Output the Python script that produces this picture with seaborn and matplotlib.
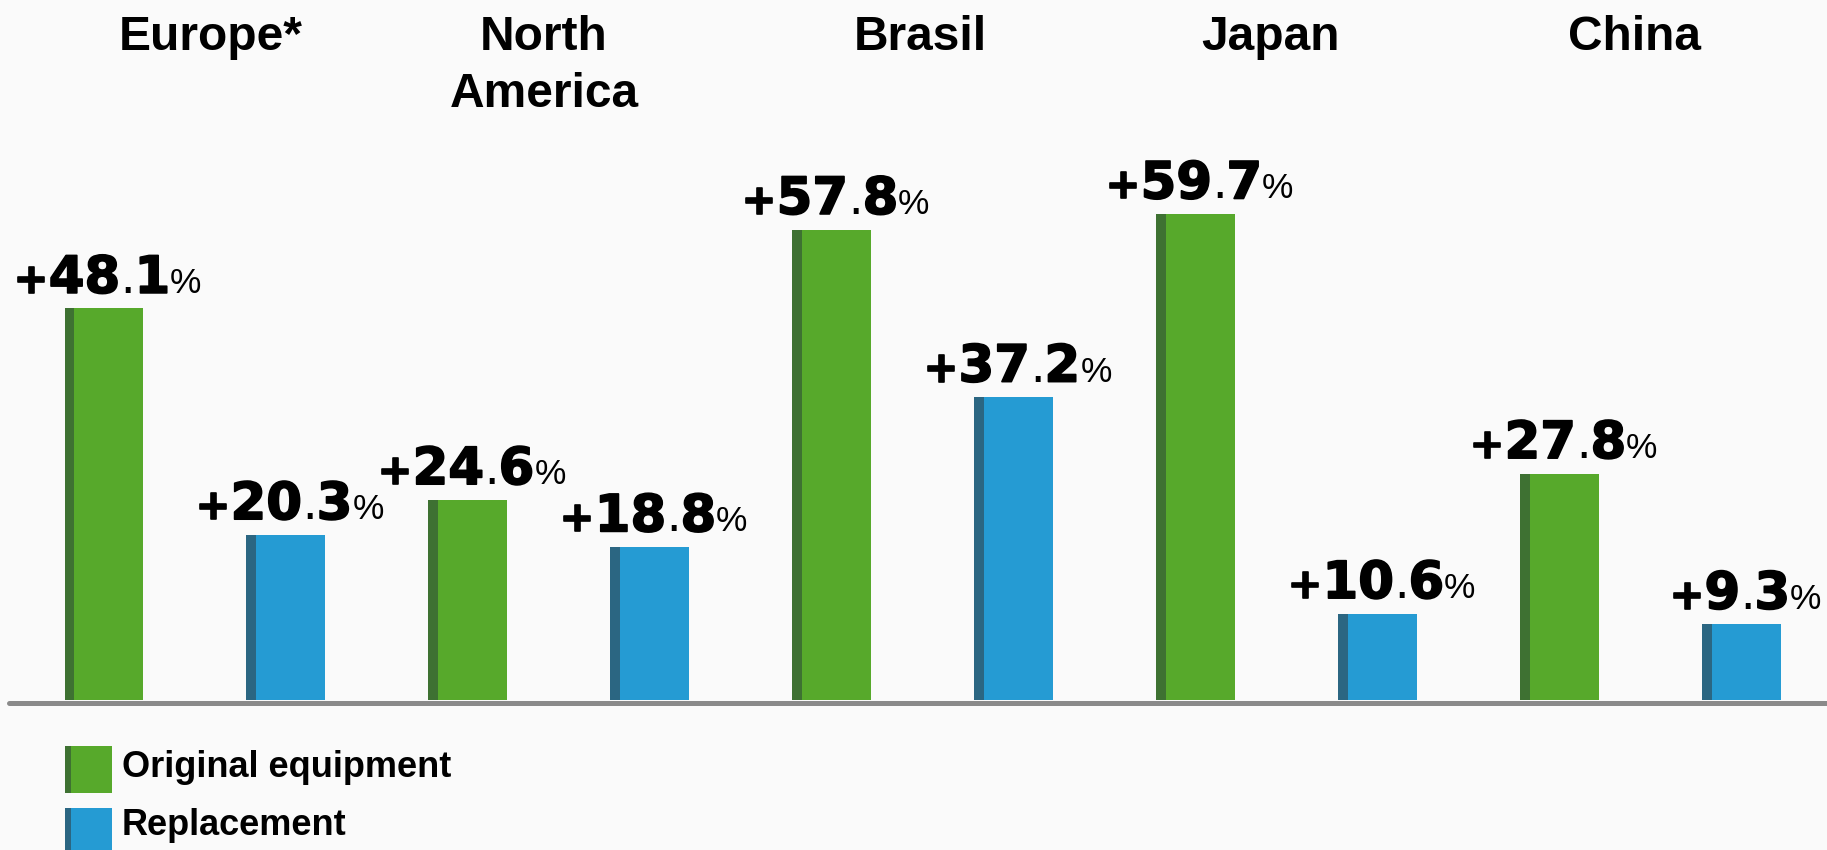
import matplotlib
matplotlib.use("Agg")
import matplotlib.pyplot as plt
import matplotlib.patheffects as pe
from matplotlib.patches import Rectangle
from matplotlib.offsetbox import TextArea, HPacker, AnnotationBbox
import pandas as pd
import seaborn as sns

# --- data -------------------------------------------------------------
regions = ["Europe*", "North\nAmerica", "Brasil", "Japan", "China"]
series = ["Original equipment", "Replacement"]
original_equipment = [48.1, 24.6, 57.8, 59.7, 27.8]
replacement = [20.3, 18.8, 37.2, 10.6, 9.3]

# --- style ------------------------------------------------------------
BG = "#fafafa"
GREEN, GREEN_DARK = "#57a92b", "#3e7132"
BLUE, BLUE_DARK = "#259bd3", "#2b6682"
BASE_GREY = "#8a8a8a"
FACE = {series[0]: GREEN, series[1]: BLUE}
SHADE = {GREEN: GREEN_DARK, BLUE: BLUE_DARK}

sns.set_theme(style="white")
plt.rcParams["font.family"] = ["Liberation Sans", "DejaVu Sans"]

W, H, DPI = 1827, 850, 100
fig = plt.figure(figsize=(W / DPI, H / DPI), dpi=DPI, facecolor=BG)


def fx(px):
    return px / W


def fy(py):
    return 1 - py / H


# axes span the chart body; baseline sits 700 px from the top
AX_H = 700
ax = fig.add_axes([fx(9), fy(AX_H), fx(W - 9), AX_H / H])
ax.set_facecolor(BG)

rows = []
for i, reg in enumerate(regions):
    rows.append({"slot": 2 * i, "series": series[0], "value": original_equipment[i]})
    rows.append({"slot": 2 * i + 1, "series": series[1], "value": replacement[i]})
df = pd.DataFrame(rows)

sns.barplot(data=df, x="slot", y="value", hue="series", palette=FACE,
            dodge=False, width=0.43, legend=False, ax=ax, saturation=1,
            order=list(range(2 * len(regions))), linewidth=0)

ax.set_xlim(-0.52, 9.47)
ax.set_ylim(0, 86.0)
ax.axis("off")

# baseline
ax.axhline(-0.31, color=BASE_GREY, lw=3.6, zorder=5, clip_on=False)

heavy = [pe.withStroke(linewidth=1.2, foreground="black")]
BOLD_NUM = dict(family="DejaVu Sans", weight="bold", size=37, color="black", path_effects=heavy)
PLUS = dict(family="DejaVu Sans", weight="bold", size=30, color="black", path_effects=heavy)
DOT = dict(family="Liberation Sans", size=37, color="black")
PCT = dict(family="Liberation Sans", size=25.5, color="black")


def value_label(x, y, v):
    whole, frac = f"{v:.1f}".split(".")
    parts = [
        TextArea("+", textprops=PLUS),
        TextArea(whole, textprops=BOLD_NUM),
        TextArea(".", textprops=DOT),
        TextArea(frac, textprops=BOLD_NUM),
        TextArea("%", textprops=PCT),
    ]
    box = HPacker(children=parts, align="baseline", pad=0, sep=0)
    ab = AnnotationBbox(box, (x, y), xybox=(3, 3.3), xycoords="data",
                        boxcoords="offset points", box_alignment=(0.5, 0),
                        frameon=False, pad=0, annotation_clip=False)
    ax.add_artist(ab)


# darker left strip on each bar, plus value label
for p in list(ax.patches):
    h = p.get_height()
    if h <= 0:
        continue
    x0, w = p.get_x(), p.get_width()
    face = matplotlib.colors.to_hex(p.get_facecolor())
    shade = SHADE.get(face, "#333333")
    ax.add_patch(Rectangle((x0, 0), w * 0.12, h, facecolor=shade,
                           edgecolor="none", zorder=p.get_zorder() + 0.1))
    value_label(x0 + w / 2, h, h)

# region headers above each pair, one baseline per line
header_shift = [0.09, -0.08, -0.01, -0.09, -0.09]
for i, reg in enumerate(regions):
    for k, line in enumerate(reg.split("\n")):
        ax.text(2 * i + 0.5 + header_shift[i], (AX_H - 50 - 57 * k) / AX_H, line,
                transform=ax.get_xaxis_transform(), ha="center", va="baseline",
                fontsize=34.5, fontweight="bold", color="black")

# legend swatches
for j, (name, col) in enumerate(zip(series, [GREEN, BLUE])):
    top = 746 + j * 62
    fig.add_artist(Rectangle((fx(65), fy(top + 47)), fx(47), 47 / H,
                             transform=fig.transFigure, facecolor=col, edgecolor="none"))
    fig.add_artist(Rectangle((fx(65), fy(top + 47)), fx(6), 47 / H,
                             transform=fig.transFigure, facecolor=SHADE[col], edgecolor="none"))
    fig.text(fx(122), fy(777 + j * 58), name, ha="left", va="baseline",
             fontsize=26, fontweight="bold", color="black")

fig.savefig("out.png", dpi=DPI, facecolor=BG)
